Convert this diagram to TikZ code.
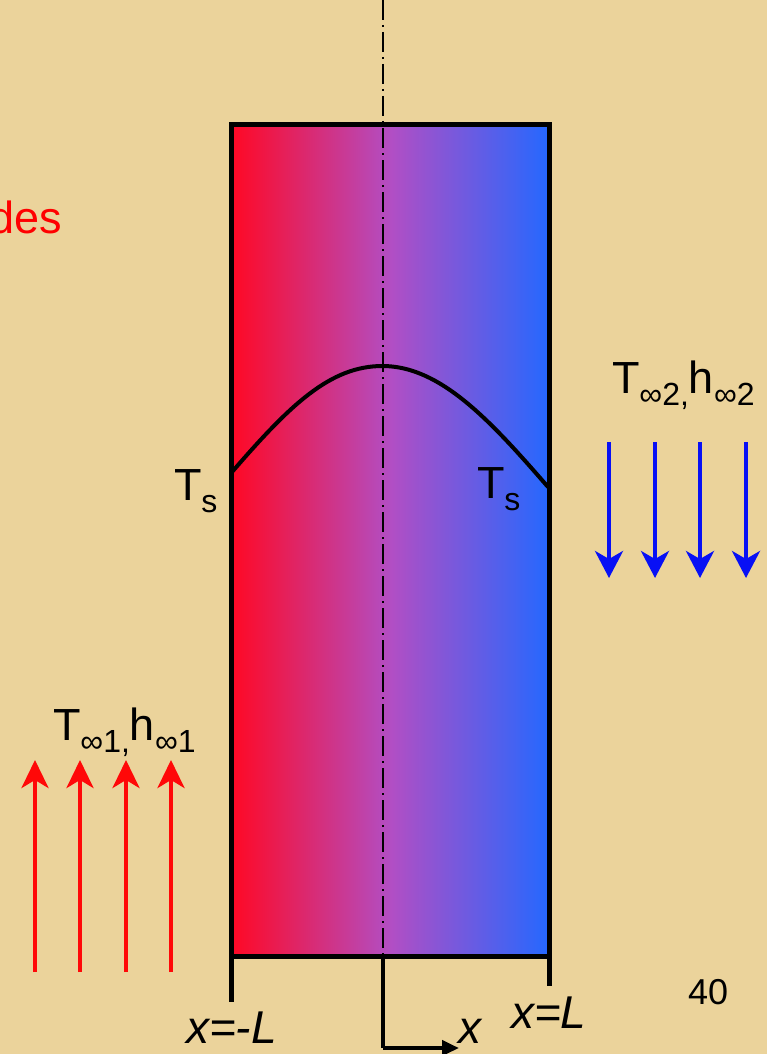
\documentclass[tikz,border=0pt]{standalone}
\usepackage{fontspec}
\setmainfont{Liberation Sans}
\usetikzlibrary{arrows.meta}
\definecolor{papyrus}{RGB}{235,211,155}
\definecolor{wallred}{RGB}{255,8,36}
\definecolor{wallmid}{RGB}{178,78,196}
\definecolor{wallblue}{RGB}{36,104,255}
\definecolor{flowblue}{RGB}{8,16,245}
\definecolor{flowred}{RGB}{255,8,8}
\newcommand{\sbs}[1]{\raisebox{-12pt}{\fontsize{32}{32}\selectfont #1}}
\begin{document}
\begin{tikzpicture}[x=1pt,y=-1pt,
  lbl/.style={inner sep=0pt, outer sep=0pt, anchor=base west, font=\fontsize{45}{50}\selectfont},
  ilbl/.style={lbl, font=\fontsize{46}{50}\selectfont\itshape},
  wallbox/.style={draw=black, line width=5pt, minimum width=318pt, minimum height=831.5pt, inner sep=0pt, outer sep=0pt,
    left color=wallred, right color=wallblue, middle color=wallmid},
  profile/.style={line width=4pt, black},
  centerline/.style={line width=2pt, black, dash pattern=on 20pt off 5pt on 2pt off 5pt},
  tickline/.style={line width=5pt, black},
  axisline/.style={line width=4pt, black, -{Triangle[length=17pt,width=15pt]}},
  upflow/.style={line width=4pt, flowred, -{Stealth[length=28pt,width=27pt,inset=8pt]}},
  downflow/.style={line width=4pt, flowblue, -{Stealth[length=27pt,width=28pt,inset=8pt]}}
]
\fill[papyrus] (0,0) rectangle (767,1054);
\useasboundingbox (0,0) rectangle (767,1054);

% wall
\node[wallbox] (wall) at (390.5,540.25) {};

% temperature profile
\draw[profile] (232,472) .. controls (290,405) and (330,366) .. (382.5,366)
  .. controls (440,366) and (490,420) .. (548,487);

% centre line and axis
\coordinate (ctop) at (382.5,0);
\coordinate (cbot) at (382.5,956);
\coordinate (origin) at (382.5,1048);
\coordinate (xtip) at (459,1048);
\draw[centerline] (ctop) -- (cbot);
\draw[line width=4pt] (cbot) -- (origin);
\draw[axisline] (origin) -- (xtip);

% ticks
\coordinate (ltick) at (231.5,1002);
\coordinate (rtick) at (549.5,986);
\draw[tickline] (wall.south west) -- (ltick);
\draw[tickline] (wall.south east) -- (rtick);

% labels
\node[lbl, text=red, font=\fontsize{45}{50}\selectfont, anchor=base east] (des) at (62,233) {des};
\node[lbl] (tsl) at (174,500) {T\sbs{s}};
\node[lbl] (tsr) at (477,498) {T\sbs{s}};
\node[lbl] (tinf2) at (612,393) {T\sbs{∞2,}h\sbs{∞2}};
\node[lbl] (tinf1) at (53,740) {T\sbs{∞1,}h\sbs{∞1}};
\node[ilbl] (xml) at (186,1043) {x=-L};
\node[ilbl] (xl) at (511,1028) {x=L};
\node[ilbl] (xax) at (458,1043) {x};
\node[lbl, font=\fontsize{36}{40}\selectfont] (pg) at (688,1004) {40};

% blue (down) flow arrows
\foreach \i/\x in {1/609,2/655,3/700,4/746}{
  \coordinate (bs\i) at (\x,442);
  \coordinate (be\i) at (\x,578);
  \draw[downflow] (bs\i) -- (be\i);
}
% red (up) flow arrows
\foreach \i/\x in {1/35,2/80,3/126,4/171}{
  \coordinate (rs\i) at (\x,972);
  \coordinate (re\i) at (\x,760);
  \draw[upflow] (rs\i) -- (re\i);
}
\end{tikzpicture}
\end{document}
